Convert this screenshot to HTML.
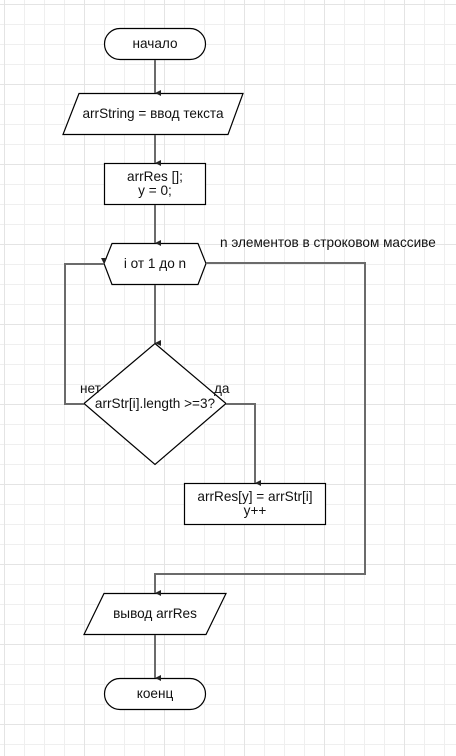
<!DOCTYPE html>
<html><head><meta charset="utf-8"><style>
html,body{margin:0;padding:0;background:#fff}
svg{display:block}
text{font-family:"Liberation Sans","DejaVu Sans",sans-serif;font-size:13.6px;fill:#111}
</style></head><body>
<svg width="456" height="756" viewBox="0 0 456 756" xmlns="http://www.w3.org/2000/svg">
<defs>
<pattern id="g" x="4" y="4" width="20" height="20" patternUnits="userSpaceOnUse">
<path d="M0 0H20M0 0V20" stroke="#efefef" stroke-width="2" fill="none"/>
</pattern>
<pattern id="G" x="4" y="4" width="80" height="80" patternUnits="userSpaceOnUse">
<path d="M0 0H80M0 0V80" stroke="#e4e4e4" stroke-width="2" fill="none"/>
</pattern>
<marker id="a" markerWidth="8" markerHeight="8" refX="4" refY="7" orient="auto" markerUnits="userSpaceOnUse">
<path d="M1 1L4 7L7 1Z" fill="#222"/>
</marker>
</defs>
<rect width="456" height="756" fill="url(#g)"/>
<rect width="456" height="756" fill="url(#G)"/>
<g stroke="#000" stroke-width="1.2" fill="#fff">
<rect x="104.5" y="28.5" width="101" height="31" rx="15.5"/>
<path d="M79 93.5H243L228 134.5H63Z"/>
<rect x="104.5" y="163.5" width="101" height="41"/>
<path d="M112 243.5H198L206 263.5L198 284.5H112L104 263.5Z"/>
<path d="M155 343.5L226 403.5L155 464.5L84 403.5Z"/>
<rect x="184.5" y="483.5" width="141" height="41"/>
<path d="M104 593.5H226L206 634.5H84Z"/>
<rect x="104.5" y="678.5" width="101" height="31" rx="15.5"/>
</g>
<g stroke="#6b6b6b" stroke-width="2" fill="none">
<path d="M155 60V93" marker-end="url(#a)"/>
<path d="M155 135V163" marker-end="url(#a)"/>
<path d="M155 205V243" marker-end="url(#a)"/>
<path d="M155 285V343" marker-end="url(#a)"/>
<path d="M84 404H65V264H104" marker-end="url(#a)"/>
<path d="M226 404H255V483" marker-end="url(#a)"/>
<path d="M206 263H365V574H155V593" marker-end="url(#a)"/>
<path d="M155 635V678" marker-end="url(#a)"/>
</g>
<g text-anchor="middle">
<text x="155" y="48">начало</text>
<text x="153" y="118">arrString = ввод текста</text>
<text x="155" y="181">arrRes [];</text>
<text x="155" y="195">y = 0;</text>
<text x="155" y="268">i от 1 до n</text>
<text x="155" y="408">arrStr[i].length &gt;=3?</text>
<text x="255" y="501">arrRes[y] = arrStr[i]</text>
<text x="255" y="515">y++</text>
<text x="155" y="618">вывод arrRes</text>
<text x="155" y="698">коенц</text>
</g>
<text x="220" y="247">n элементов в строковом массиве</text>
<text x="80" y="393">нет</text>
<text x="214" y="393">да</text>
</svg>
</body></html>
